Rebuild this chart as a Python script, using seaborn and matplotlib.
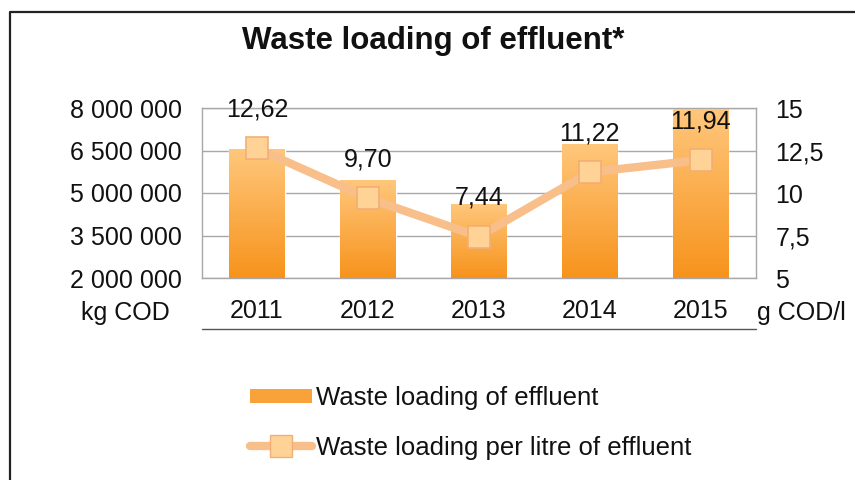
import numpy as np
import pandas as pd
import matplotlib
matplotlib.use('Agg')
import matplotlib.pyplot as plt
import seaborn as sns
from matplotlib.lines import Line2D
from matplotlib.patches import Patch
from matplotlib.colors import LinearSegmentedColormap

# data
years = ['2011', '2012', '2013', '2014', '2015']
loading_kg = [6550000, 5450000, 4620000, 6730000, 7960000]
per_litre = [12.62, 9.70, 7.44, 11.22, 11.94]
left_ticks = [2000000, 3500000, 5000000, 6500000, 8000000]
right_ticks = [5, 7.5, 10, 12.5, 15]

df = pd.DataFrame({'year': years, 'kg': loading_kg, 'gl': per_litre})

sns.set_theme(style='white')
plt.rcParams['font.family'] = ['Liberation Sans', 'DejaVu Sans']

W, H = 855, 480
FS = 18
fig = plt.figure(figsize=(W / 100, H / 100), dpi=100)
fig.patch.set_facecolor('white')

# plot area in pixels: x 201.5-756, y 108-278
ax = fig.add_axes([201.5 / W, 1 - 278 / H, (756 - 201.5) / W, (278 - 108) / H])

sns.barplot(data=df, x='year', y='kg', ax=ax, width=0.5, color='#F7941D',
            saturation=1, zorder=2)
ax.set_ylim(left_ticks[0], left_ticks[-1])
ax.set_xlim(-0.5, len(years) - 0.5)

# vertical gradient on the bars
grad_cmap = LinearSegmentedColormap.from_list('bar', ['#FFC77C', '#F7931C'])
grad = np.linspace(0, 1, 256).reshape(-1, 1)
for p in ax.patches:
    x0 = p.get_x()
    x1 = x0 + p.get_width()
    top = p.get_y() + p.get_height()
    im = ax.imshow(grad, cmap=grad_cmap, aspect='auto', origin='upper',
                   extent=(x0, x1, left_ticks[0], top), zorder=3)
    im.set_clip_path(p)
ax.set_ylim(left_ticks[0], left_ticks[-1])
ax.set_xlim(-0.5, len(years) - 0.5)
ax.set_aspect('auto')

ax.set_yticks(left_ticks)
ax.set_yticklabels([f'{v:,}'.replace(',', ' ') for v in left_ticks])
ax.yaxis.grid(True, color='#A8A8A8', lw=1)
ax.set_axisbelow(True)
ax.set_xlabel('')
ax.set_ylabel('')
ax.tick_params(axis='y', length=0, pad=14, labelsize=FS, colors='#111111')
ax.tick_params(axis='x', length=0, pad=15, labelsize=FS, colors='#111111')
for s in ax.spines.values():
    s.set_color('#A8A8A8')
    s.set_linewidth(1)

# line on the right axis
ax2 = ax.twinx()
pos = np.arange(len(years))
sns.lineplot(x=pos, y=per_litre, ax=ax2, color='#F9BF8A', lw=6,
             marker='s', markersize=16, markerfacecolor='#FFD295',
             markeredgecolor='#F2AE76', markeredgewidth=1.2, sort=False)
ax2.set_ylim(right_ticks[0], right_ticks[-1])
ax2.set_xlim(-0.5, len(years) - 0.5)
ax2.set_yticks(right_ticks)
ax2.set_yticklabels([f'{v:g}'.replace('.', ',') for v in right_ticks])
ax2.tick_params(axis='y', length=0, pad=14, labelsize=FS, colors='#111111')
ax2.set_ylabel('')
for s in ax2.spines.values():
    s.set_visible(False)

for i, v in enumerate(per_litre):
    ax2.annotate(f'{v:.2f}'.replace('.', ','), (i, v), xytext=(0, 28),
                 textcoords='offset points', ha='center', va='center',
                 fontsize=FS, color='#111111')

# title, unit labels, rule under the years
fig.text(433 / W, 1 - 41 / H, 'Waste loading of effluent*', ha='center',
         va='center', fontsize=22.5, fontweight='bold', color='#111111')
fig.text(125 / W, 1 - 320 / H, 'kg COD', ha='center', va='baseline',
         fontsize=FS, color='#111111')
fig.text(757 / W, 1 - 320 / H, 'g COD/l', ha='left', va='baseline',
         fontsize=FS, color='#111111')
fig.add_artist(Line2D([201.5 / W, 756 / W], [1 - 329 / H] * 2,
                      transform=fig.transFigure, color='#555555', lw=1))

# outer frame (left and top edges visible)
fig.add_artist(Line2D([9.5 / W, 9.5 / W, 1.0], [0, 1 - 12 / H, 1 - 12 / H],
                      transform=fig.transFigure, color='#222222', lw=1.6))

handles = [
    Patch(facecolor='#F9A239', edgecolor='none'),
    Line2D([0], [0], color='#F9BF8A', lw=6, marker='s', markersize=16,
           markerfacecolor='#FFD295', markeredgecolor='#F2AE76'),
]
labels = ['Waste loading of effluent', 'Waste loading per litre of effluent']
fig.legend(handles, labels, loc='upper left',
           bbox_to_anchor=(250 / W, 1 - 386 / H), frameon=False,
           borderpad=0, borderaxespad=0, handlelength=2.4, handleheight=0.5,
           handletextpad=0.15, labelspacing=1.0, fontsize=18.5,
           labelcolor='#111111')

fig.savefig('out.png', dpi=100)
